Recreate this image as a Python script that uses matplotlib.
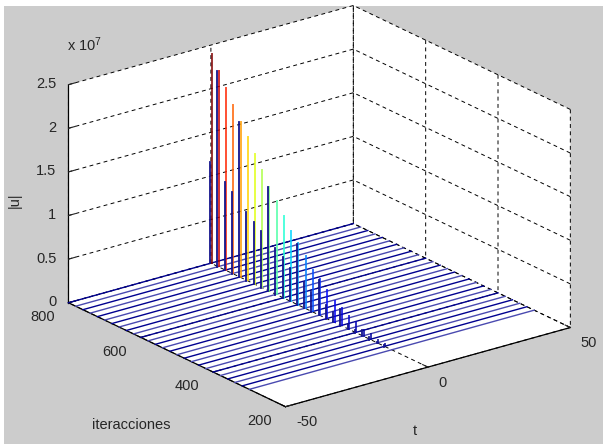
import matplotlib
matplotlib.use('Agg')
import matplotlib.pyplot as plt
from matplotlib.patches import Rectangle

# one row of the mesh per iteration value
iteraciones = [800, 780, 760, 740, 720, 700, 680, 660, 640, 620, 600, 580, 560,
               540, 520, 500, 480, 460, 440, 420, 400, 380, 360, 340, 320, 300]
# spike height at t=0, in units of 1e7
pico = [2.39, 2.24, 2.09, 1.93, 1.78, 1.64, 1.49, 1.34, 1.19, 1.07, 0.94, 0.80, 0.70,
        0.60, 0.48, 0.41, 0.32, 0.24, 0.195, 0.15, 0.115, 0.07, 0.057, 0.034, 0.023, 0.0]
# sample just before the spike (dark blue stroke)
previo = [1.16, 2.24, 1.01, 0.94, 1.78, 0.79, 0.71, 0.65, 1.19, 0.53, 0.47, 0.38, 0.70,
          0.30, 0.23, 0.41, 0.16, 0.115, 0.195, 0.06, 0.035, 0.07, 0.03, 0.017, 0.023, 0.0]
t_ticks = [-50, 0, 50]
it_ticks = [200, 400, 600, 800]
u_ticks = [0, 0.5, 1, 1.5, 2, 2.5]
u_labels = ['0', '0.5', '1', '1.5', '2', '2.5']

plt.rcParams['font.family'] = ['Liberation Sans', 'DejaVu Sans']
plt.rcParams['font.size'] = 10.5
plt.rcParams['mathtext.default'] = 'regular'
plt.rcParams['axes.unicode_minus'] = False

fondo = '#cccccc'
azul = '#00008f'
texto = '#262626'
fig = plt.figure(figsize=(6.03, 4.44), dpi=100, facecolor='white')
# grey window area, the screenshot has a white strip left and on top
fig.patches.append(Rectangle((4 / 603, 0), 599 / 603, 438 / 444, transform=fig.transFigure,
                             facecolor=fondo, edgecolor='none', figure=fig, zorder=-1))
ax = fig.add_axes([11.9 / 603, 9.9 / 444, 1, 1], projection='3d', proj_type='ortho', facecolor='none')
ax.computed_zorder = False
ax.view_init(elev=21.4, azim=-127.3)
ax.set_box_aspect((1, 1, 0.654), zoom=1.22)

dt = 0.25
for i in range(len(iteraciones)):
    y = iteraciones[i]
    color_fila = azul if i % 2 == 0 else '#4a4ab0'
    # the row itself, back to front
    ax.plot([-50, 50], [y, y], [0, 0], color=color_fila, lw=1.0, clip_on=False)
    if pico[i] > 0:
        ax.plot([dt, dt], [y, y], [0, pico[i]], color=plt.cm.jet(pico[i] / max(pico)), lw=1.4, alpha=0.8)
        ax.plot([-dt, -dt], [y, y], [0, previo[i]], color='#14148c', lw=1.3)

ax.set_xlim(-50, 50)
ax.set_ylim(200, 800)
ax.set_zlim(0, 2.5)
ax.set_xticks(t_ticks)
ax.set_yticks(it_ticks)
ax.set_zticks(u_ticks)
ax.set_zticklabels(u_labels)

for eje in [ax.xaxis, ax.yaxis, ax.zaxis]:
    eje.set_pane_color((1, 1, 1, 1))
    eje.pane.set_edgecolor('none')
    eje.line.set_color('black')
    eje.line.set_linewidth(0.9)
    eje._axinfo['grid'].update(color='black', linestyle=(0, (4, 3.5)), linewidth=0.7)
    eje._axinfo['tick'].update(inward_factor=0.0, outward_factor=0.3)
ax.tick_params(colors=texto)
ax.xaxis.set_tick_params(pad=0)
ax.yaxis.set_tick_params(pad=0)
ax.zaxis.set_tick_params(pad=-4)
for etiqueta in ax.get_xticklabels():
    etiqueta.set_ha('left')
    etiqueta.set_va('center')
for etiqueta in ax.get_yticklabels():
    etiqueta.set_ha('right')
    etiqueta.set_va('center')
for etiqueta in ax.get_zticklabels():
    etiqueta.set_ha('right')
    etiqueta.set_va('center')

fig.text(415 / 603, 1 - 431 / 444, 't', ha='center', va='center', color=texto)
fig.text(131 / 603, 1 - 425 / 444, 'iteracciones', ha='center', va='center', color=texto)
fig.text(15 / 603, 1 - 200 / 444, '|u|', ha='center', va='center', rotation=90, color=texto)
fig.text(67 / 603, 1 - 45 / 444, 'x 10$^{7}$', ha='left', va='center', color=texto)

fig.savefig('out.png', dpi=100, facecolor='white')
